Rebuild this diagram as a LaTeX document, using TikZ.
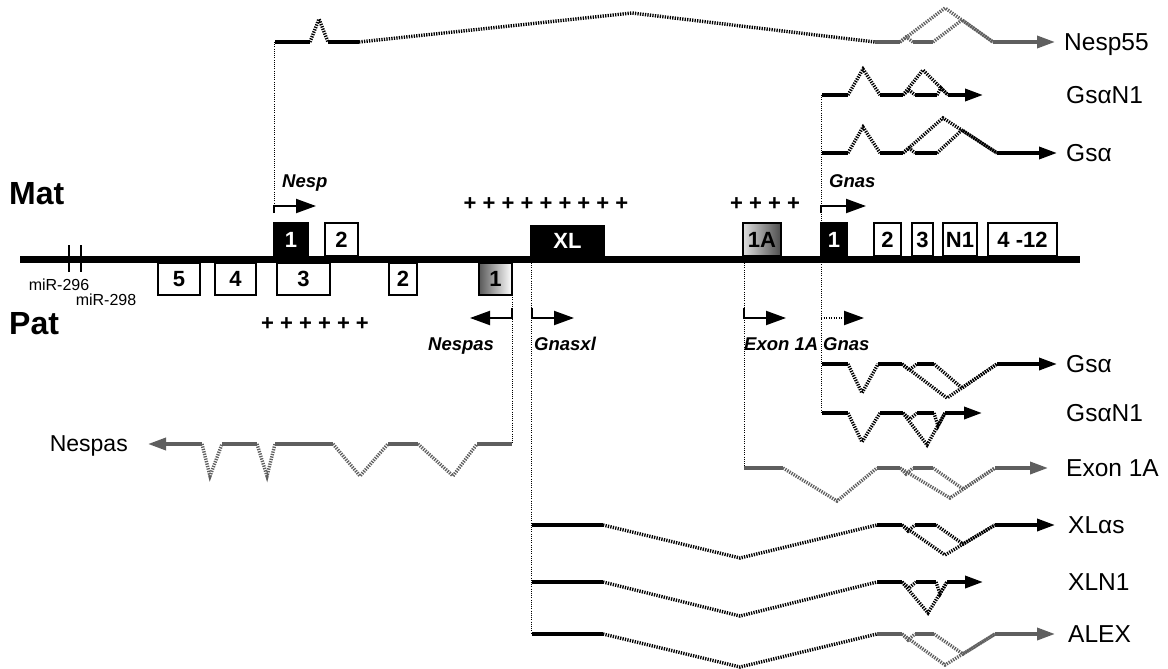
\documentclass[tikz,border=0pt]{standalone}
\usepackage{fontspec}
\setmainfont{Liberation Sans}
\usetikzlibrary{arrows.meta}
\definecolor{tgray}{RGB}{95,95,95}
\begin{document}
\begin{tikzpicture}[x=1pt,y=-1pt,
  exon/.style={line width=3.5pt},
  intron/.style={line width=3.4pt,dash pattern=on 1.3pt off 1.2pt},
  guide/.style={line width=0.7pt,dash pattern=on 0.8pt off 1.4pt},
  tarrow/.style={exon,-{Triangle[length=18pt,width=12pt]}},
  barrow/.style={line width=2pt,-{Triangle[length=20pt,width=14pt]}},
  boxw/.style={draw,line width=1.3pt,fill=white,inner sep=0pt,font=\bfseries\fontsize{22}{22}\selectfont},
  boxb/.style={boxw,fill=black,text=white},
  tlabel/.style={anchor=base west,inner sep=0pt,font=\fontsize{24.5}{24.5}\selectfont},
  glabel/.style={anchor=base west,inner sep=0pt,font=\bfseries\itshape\fontsize{18.5}{18.5}\selectfont},
  plus/.style={anchor=base,inner sep=0pt,font=\bfseries\fontsize{22}{22}\selectfont},
  mlabel/.style={anchor=base,inner sep=0pt,font=\fontsize{16}{16}\selectfont},
  side/.style={anchor=base west,inner sep=0pt,font=\bfseries\fontsize{32}{32}\selectfont},
]
\useasboundingbox[fill=white] (0,0) rectangle (1168,669);

% guides (thin dotted verticals)
\draw[guide] (274,42) -- (274,213);
\draw[guide] (512,295) -- (512,444);
\draw[guide] (531.5,263) -- (531.5,634);
\draw[guide] (744,263) -- (744,468);
\draw[guide] (821,95) -- (821,413);

% main chromosome line
\coordinate (lineL) at (20,259.5);
\coordinate (lineR) at (1080,259.5);
\draw[line width=7pt] (lineL) -- (lineR);
\draw[line width=1.5pt] (69,245) -- (69,272);
\draw[line width=1.5pt] (81,245) -- (81,272);

% exon boxes above line
\node[boxb,minimum width=34pt,minimum height=33pt] (nesp1) at (291,239.5) {1};
\node[boxw,minimum width=33pt,minimum height=33pt] (nesp2) at (341.5,239.5) {2};
\node[boxb,minimum width=73pt,minimum height=30pt] (xl) at (567.5,241) {XL};
\node[boxw,minimum width=38pt,minimum height=33pt,left color=gray!25,right color=gray!60!black] (ex1a) at (762,239.5) {1A};
\node[boxb,minimum width=26pt,minimum height=33pt] (gnas1) at (834,239.5) {1};
\node[boxw,minimum width=27pt,minimum height=33pt] (g2) at (887.5,239.5) {2};
\node[boxw,minimum width=21pt,minimum height=33pt] (g3) at (922.5,239.5) {3};
\node[boxw,minimum width=34pt,minimum height=33pt] (gn1) at (960,239.5) {N1};
\node[boxw,minimum width=69pt,minimum height=33pt] (g412) at (1022.5,239.5) {4 -12};
% exon boxes below line
\node[boxw,minimum width=42pt,minimum height=32pt] (b5) at (179,279) {5};
\node[boxw,minimum width=41pt,minimum height=32pt] (b4) at (235.5,279) {4};
\node[boxw,minimum width=53pt,minimum height=32pt] (b3) at (303.5,279) {3};
\node[boxw,minimum width=28pt,minimum height=32pt] (b2) at (403,279) {2};
\node[boxw,minimum width=33pt,minimum height=32pt,left color=gray!70!black,right color=white] (nespas1) at (495.5,279) {1};

% side labels
\node[side] (mat) at (9,204.5) {Mat};
\node[side] (pat) at (9,334.5) {Pat};

% miRNA labels
\node[mlabel] (mir296) at (59,290.5) {miR-296};
\node[mlabel] (mir298) at (106,305.5) {miR-298};

% methylation marks
\node[plus] (p1) at (315,330.7) {+ + + + + +};
\node[plus] (p2) at (546,210.7) {+ + + + + + + + +};
\node[plus] (p3) at (765,210.7) {+ + + +};

% promoter arrows
\draw[barrow] (274,213) -- (274,206) -- (316,206);
\draw[barrow] (821,213) -- (821,206) -- (866,206);
\draw[barrow] (512,308) -- (512,318) -- (470,318);
\draw[barrow] (532,308) -- (532,318) -- (574,318);
\draw[barrow] (744,308) -- (744,318) -- (786,318);
\draw[line width=2pt,dash pattern=on 1pt off 1.5pt,-{Triangle[length=20pt,width=14pt]}] (821,318) -- (864,318);

% gene labels
\node[glabel] (lnesp) at (282,187.5) {Nesp};
\node[glabel] (lgnas) at (829,187.5) {Gnas};
\node[glabel] (lnespas) at (428,350.5) {Nespas};
\node[glabel] (lgnasxl) at (534,350.5) {Gnasxl};
\node[glabel] (lexon1a) at (744,350.5) {Exon 1A};
\node[glabel] (lgnas2) at (823,350.5) {Gnas};

% ---- Nesp55 (y=42)
\draw[exon] (275,42) -- (310,42);
\draw[exon] (328,42) -- (359,42);
\draw[intron] (310,42) -- (319,19) -- (328,42);
\draw[intron] (359,42) -- (632,13) -- (875,42);
\begin{scope}[tgray]
\draw[exon] (875,42) -- (900,42);
\draw[exon] (913,42) -- (933,42);
\draw[intron] (900,42) -- (906,37) -- (913,42);
\draw[intron] (900,42) -- (945,8) -- (993,42);
\draw[intron] (933,42) -- (962,20) -- (993,42);
\draw[tarrow] (993,42) -- (1055,42);
\end{scope}

% ---- Gs alpha N1 top (y=95)
\draw[exon] (822,95) -- (848,95);
\draw[exon] (880,95) -- (903,95);
\draw[exon] (915,95) -- (937,95);
\draw[intron] (848,95) -- (863,69) -- (880,95);
\draw[intron] (903,95) -- (909,90) -- (915,95);
\draw[intron] (903,95) -- (923,70) -- (948,95);
\draw[intron] (937,95) -- (941,88) -- (948,95);
\draw[tarrow] (948,95) -- (983,95);

% ---- Gs alpha top (y=153)
\draw[exon] (822,153) -- (848,153);
\draw[exon] (880,153) -- (903,153);
\draw[exon] (915,153) -- (937,153);
\draw[intron] (848,153) -- (863,127) -- (880,153);
\draw[intron] (903,153) -- (909,148) -- (915,153);
\draw[intron] (903,153) -- (943,118) -- (997,153);
\draw[intron] (937,153) -- (962,130) -- (997,153);
\draw[tarrow] (997,153) -- (1057,153);

% ---- Gs alpha lower (y=364)
\draw[exon] (822,364) -- (848,364);
\draw[exon] (878,364) -- (902,364);
\draw[exon] (917,364) -- (934,364);
\draw[intron] (848,364) -- (862,393) -- (878,364);
\draw[intron] (902,364) -- (909,370) -- (917,364);
\draw[intron] (902,364) -- (947,398) -- (997,364);
\draw[intron] (934,364) -- (962,388) -- (997,364);
\draw[tarrow] (997,364) -- (1057,364);

% ---- Gs alpha N1 lower (y=413)
\draw[exon] (822,413) -- (848,413);
\draw[exon] (880,413) -- (903,413);
\draw[exon] (917,413) -- (934,413);
\draw[intron] (848,413) -- (862,442) -- (880,413);
\draw[intron] (903,413) -- (910,419) -- (917,413);
\draw[intron] (903,413) -- (927,445) -- (945,413);
\draw[intron] (934,413) -- (938,426) -- (945,413);
\draw[tarrow] (945,413) -- (982,413);

% ---- Exon 1A (y=468)
\begin{scope}[tgray]
\draw[exon] (744,468) -- (783,468);
\draw[exon] (877,468) -- (900,468);
\draw[exon] (913,468) -- (933,468);
\draw[intron] (783,468) -- (837,501) -- (877,468);
\draw[intron] (900,468) -- (906,474) -- (913,468);
\draw[intron] (900,468) -- (950,498) -- (995,468);
\draw[intron] (933,468) -- (963,489) -- (995,468);
\draw[tarrow] (995,468) -- (1048,468);
\end{scope}

% ---- XL alpha s (y=525)
\draw[exon] (532,525) -- (603,525);
\draw[exon] (877,525) -- (902,525);
\draw[exon] (915,525) -- (936,525);
\draw[intron] (603,525) -- (740,558) -- (877,525);
\draw[intron] (902,525) -- (908,531) -- (915,525);
\draw[intron] (902,525) -- (945,555) -- (995,525);
\draw[intron] (936,525) -- (963,544) -- (995,525);
\draw[tarrow] (995,525) -- (1055,525);

% ---- XLN1 (y=582)
\draw[exon] (532,582) -- (603,582);
\draw[exon] (877,582) -- (902,582);
\draw[exon] (916,582) -- (936,582);
\draw[intron] (603,582) -- (740,616) -- (877,582);
\draw[intron] (902,582) -- (909,588) -- (916,582);
\draw[intron] (902,582) -- (928,613) -- (947,582);
\draw[intron] (936,582) -- (940,594) -- (947,582);
\draw[tarrow] (947,582) -- (983,582);

% ---- ALEX (y=634)
\draw[exon] (532,634) -- (603,634);
\draw[intron] (603,634) -- (740,667) -- (877,634);
\begin{scope}[tgray]
\draw[exon] (877,634) -- (902,634);
\draw[exon] (915,634) -- (934,634);
\draw[intron] (902,634) -- (908,640) -- (915,634);
\draw[intron] (902,634) -- (945,665) -- (995,634);
\draw[intron] (934,634) -- (963,654) -- (995,634);
\draw[tarrow] (995,634) -- (1055,634);
\end{scope}

% ---- Nespas (y=444)
\begin{scope}[tgray]
\draw[tarrow] (202,444) -- (148,444);
\draw[exon] (222,444) -- (257,444);
\draw[exon] (275,444) -- (333,444);
\draw[exon] (388,444) -- (418,444);
\draw[exon] (477,444) -- (512,444);
\draw[intron] (202,444) -- (210,476) -- (222,444);
\draw[intron] (257,444) -- (267,476) -- (275,444);
\draw[intron] (333,444) -- (360,476) -- (388,444);
\draw[intron] (418,444) -- (453,476) -- (477,444);
\end{scope}

% transcript labels
\node[tlabel] (tnesp55) at (1064,50.5) {Nesp55};
\node[tlabel] (tgsn1a) at (1066,103.5) {GsαN1};
\node[tlabel] (tgsa) at (1066,161.5) {Gsα};
\node[tlabel] (tgsb) at (1066,372.5) {Gsα};
\node[tlabel] (tgsn1b) at (1066,421.5) {GsαN1};
\node[tlabel] (tex1a) at (1066,476.5) {Exon 1A};
\node[tlabel] (txlas) at (1068,533.5) {XLαs};
\node[tlabel] (txln1) at (1068,590.5) {XLN1};
\node[tlabel] (talex) at (1068,642.5) {ALEX};
\node[tlabel,font=\fontsize{23}{23}\selectfont,anchor=base east] (tnespas) at (128,451) {Nespas};
\end{tikzpicture}
\end{document}
